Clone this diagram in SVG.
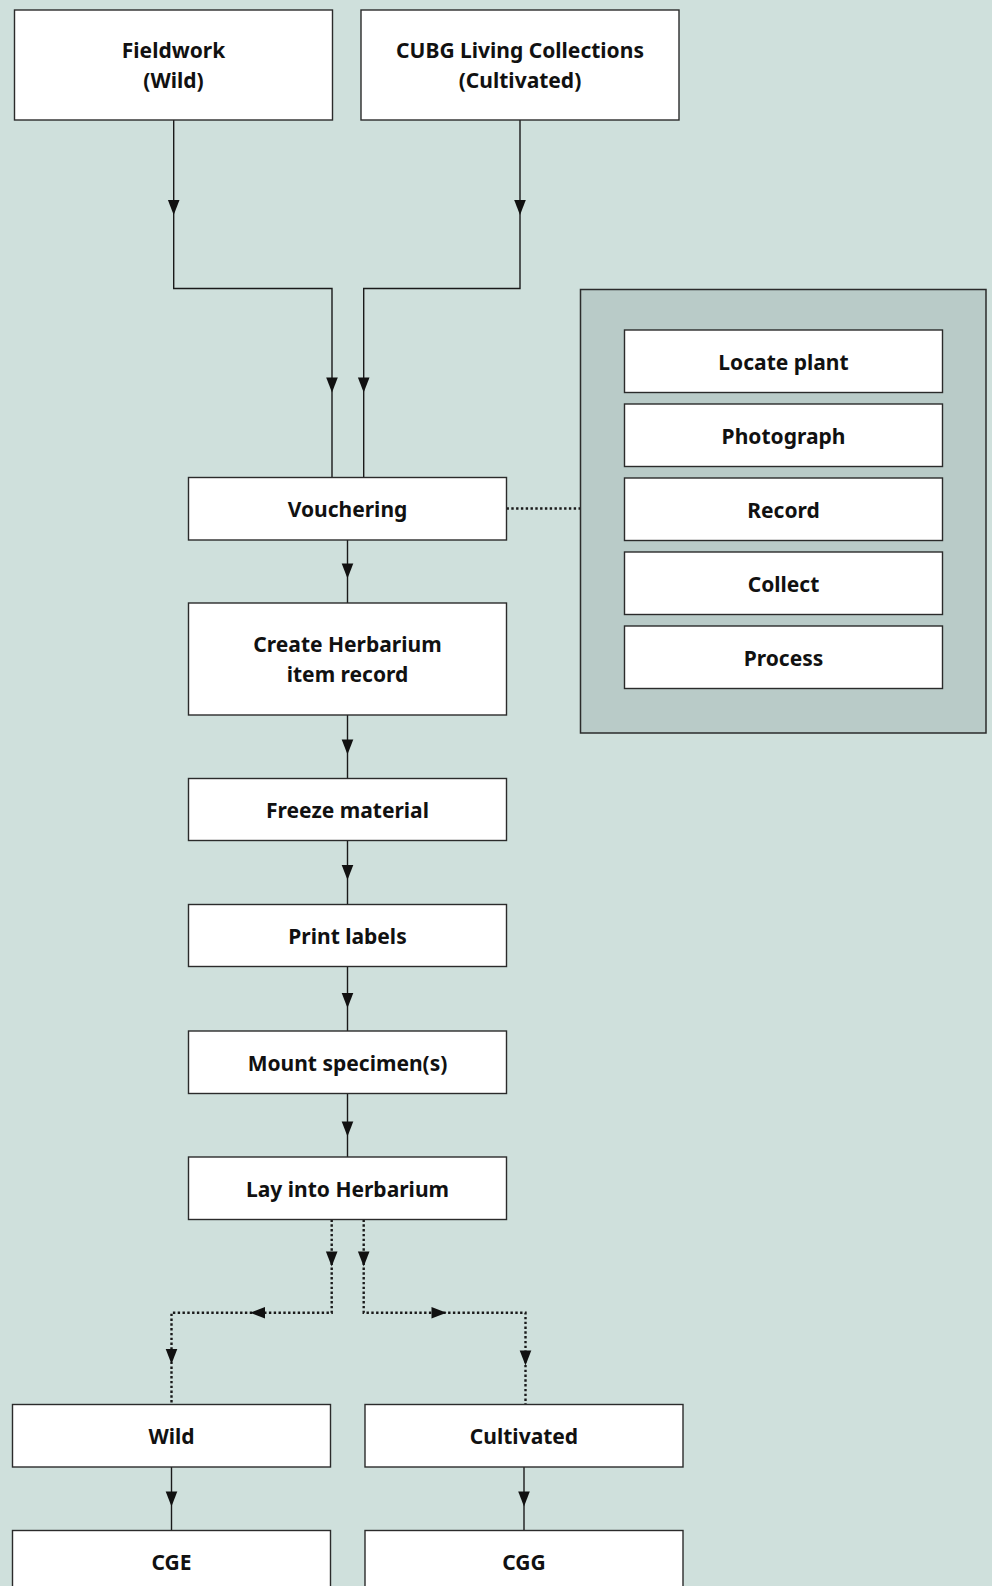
<svg xmlns="http://www.w3.org/2000/svg" width="992" height="1586" viewBox="0 0 992 1586">
<style>
.bg{fill:#cfe0dc}
.box{fill:#ffffff;stroke:#2b2b2b;stroke-width:1.4}
.grp{fill:#b9cbc8;stroke:#2b2b2b;stroke-width:1.5}
.t{font-family:"Noto Sans","Open Sans",sans-serif;font-weight:bold;font-size:21px;fill:#111;text-anchor:middle}
.ln{fill:none;stroke:#1a1a1a;stroke-width:1.4}
.dt{fill:none;stroke:#1a1a1a;stroke-width:2.4;stroke-dasharray:2.4 2.4}
.ah{fill:#111}
</style>
<defs>
<path id="ah" d="M0,0 L-5.8,-15 L5.8,-15 Z"/>
</defs>
<rect class="bg" x="0" y="0" width="992" height="1586"/>

<g id="connectors">
<path class="ln" d="M173.7,120 V288.5 H332 V477.5"/>
<path class="ln" d="M520,120 V288.5 H363.7 V477.5"/>
<path class="ln" d="M347.5,540 V603"/>
<path class="ln" d="M347.5,715 V778.5"/>
<path class="ln" d="M347.5,840.5 V904.5"/>
<path class="ln" d="M347.5,966.5 V1031"/>
<path class="ln" d="M347.5,1093.5 V1157"/>
<path class="dt" d="M506.5,508.5 H580.5"/>
<path class="dt" d="M331.7,1219.5 V1312.7 H171.5 V1404.5"/>
<path class="dt" d="M363.7,1219.5 V1312.7 H525.5 V1404.5"/>
<path class="ln" d="M171.5,1467 V1530.5"/>
<path class="ln" d="M524,1467 V1530.5"/>
<g class="ah">
<use href="#ah" transform="translate(173.7,215)"/>
<use href="#ah" transform="translate(520,215)"/>
<use href="#ah" transform="translate(332,392.5)"/>
<use href="#ah" transform="translate(363.7,392.5)"/>
<use href="#ah" transform="translate(347.5,578.5)"/>
<use href="#ah" transform="translate(347.5,754.5)"/>
<use href="#ah" transform="translate(347.5,880)"/>
<use href="#ah" transform="translate(347.5,1008)"/>
<use href="#ah" transform="translate(347.5,1136.5)"/>
<use href="#ah" transform="translate(331.7,1266.5)"/>
<use href="#ah" transform="translate(363.7,1266.5)"/>
<use href="#ah" transform="translate(250,1312.7) rotate(90)"/>
<use href="#ah" transform="translate(446.5,1312.7) rotate(-90)"/>
<use href="#ah" transform="translate(171.5,1364)"/>
<use href="#ah" transform="translate(525.5,1365.5)"/>
<use href="#ah" transform="translate(171.5,1506.5)"/>
<use href="#ah" transform="translate(524,1506.5)"/>
</g>
</g>

<g id="fieldwork"><rect class="box" x="14.5" y="10" width="318" height="110"/><text class="t" x="173.5" y="58">Fieldwork</text><text class="t" x="173.5" y="88">(Wild)</text></g>
<g id="cubg"><rect class="box" x="361" y="10" width="318" height="110"/><text class="t" x="520" y="58">CUBG Living Collections</text><text class="t" x="520" y="88">(Cultivated)</text></g>
<g id="vouchering"><rect class="box" x="188.5" y="477.5" width="318" height="62.5"/><text class="t" x="347.5" y="517">Vouchering</text></g>
<g id="create"><rect class="box" x="188.5" y="603" width="318" height="112"/><text class="t" x="347.5" y="652">Create Herbarium</text><text class="t" x="347.5" y="682">item record</text></g>
<g id="freeze"><rect class="box" x="188.5" y="778.5" width="318" height="62"/><text class="t" x="347.5" y="817.5">Freeze material</text></g>
<g id="print"><rect class="box" x="188.5" y="904.5" width="318" height="62"/><text class="t" x="347.5" y="943.5">Print labels</text></g>
<g id="mount"><rect class="box" x="188.5" y="1031" width="318" height="62.5"/><text class="t" x="347.5" y="1070.5">Mount specimen(s)</text></g>
<g id="lay"><rect class="box" x="188.5" y="1157" width="318" height="62.5"/><text class="t" x="347.5" y="1196.5">Lay into Herbarium</text></g>

<g id="vouchering-steps"><rect class="grp" x="580.5" y="289.5" width="405.5" height="443.5"/></g>
<g id="locate"><rect class="box" x="624.5" y="330" width="318" height="62.5"/><text class="t" x="783.5" y="369.5">Locate plant</text></g>
<g id="photograph"><rect class="box" x="624.5" y="404" width="318" height="62.5"/><text class="t" x="783.5" y="443.5">Photograph</text></g>
<g id="record"><rect class="box" x="624.5" y="478" width="318" height="62.5"/><text class="t" x="783.5" y="517.5">Record</text></g>
<g id="collect"><rect class="box" x="624.5" y="552" width="318" height="62.5"/><text class="t" x="783.5" y="591.5">Collect</text></g>
<g id="process"><rect class="box" x="624.5" y="626" width="318" height="62.5"/><text class="t" x="783.5" y="665.5">Process</text></g>

<g id="wild"><rect class="box" x="12.5" y="1404.5" width="318" height="62.5"/><text class="t" x="171.5" y="1444">Wild</text></g>
<g id="cultivated"><rect class="box" x="365" y="1404.5" width="318" height="62.5"/><text class="t" x="524" y="1444">Cultivated</text></g>
<g id="cge"><rect class="box" x="12.5" y="1530.5" width="318" height="62.5"/><text class="t" x="171.5" y="1570">CGE</text></g>
<g id="cgg"><rect class="box" x="365" y="1530.5" width="318" height="62.5"/><text class="t" x="524" y="1570">CGG</text></g>
</svg>
